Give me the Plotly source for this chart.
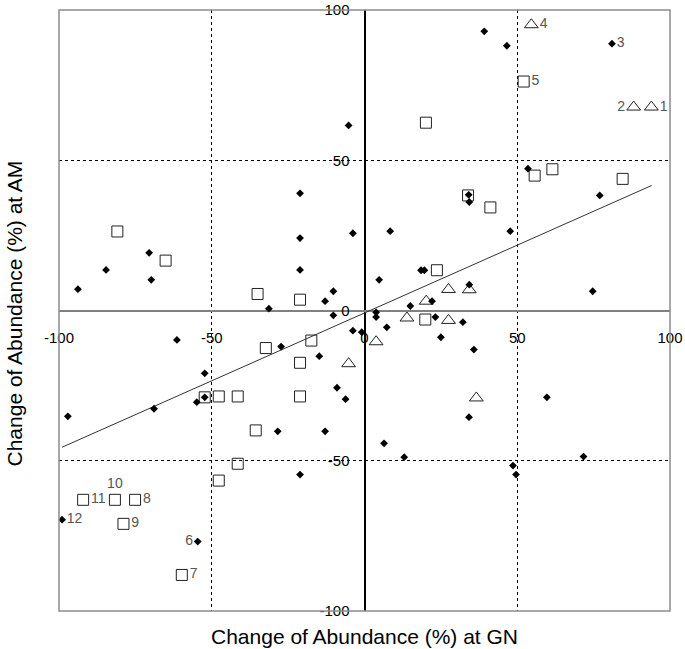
import plotly.graph_objects as go

# ---- data ----
dia_x = [-5.2, -21.1, -3.8, -21.1, -70.5, -84.6, -21.1, -69.8, -93.8, -10.2,
         -12.9, -31.3, -10.2, 39.2, 46.6, 81.0, 53.5, 77.0, 34.1, 34.3,
         47.7, 8.4, 18.5, 19.6, 4.8, 74.7, 34.3, 15.0, 22.1, 3.8,
         3.8, -3.8, -0.9, -61.4, -27.3, -14.8, -52.3, -9.0, -6.2, -52.3,
         -54.9, -68.9, -97.1, -28.4, -12.9, -21.1, -99.0, -54.6, 7.3, 23.2,
         32.2, 25.0, 35.8, 59.7, 34.2, 6.4, 13.0, 71.7, 48.6, 49.6]
dia_y = [61.6, 39.0, 25.7, 24.1, 19.2, 13.5, 13.5, 10.2, 7.1, 6.4,
         3.1, 0.6, -1.6, 92.9, 88.1, 88.8, 47.2, 38.3, 38.5, 36.1,
         26.4, 26.4, 13.4, 13.4, 10.2, 6.4, 8.6, 1.5, 3.1, -0.6,
         -2.2, -6.7, -7.2, -9.8, -12.0, -15.2, -20.9, -25.7, -29.5, -28.9,
         -30.5, -32.7, -35.2, -40.2, -40.2, -54.6, -69.6, -76.9, -5.6, -2.2,
         -3.9, -8.9, -13.0, -28.9, -35.5, -44.2, -48.8, -48.6, -51.6, -54.6]
dia_lbl = {15: ("3", "middle right"), 46: ("12", "middle right"), 47: ("6", "middle left")}

sq_x = [-80.9, -65.1, -35.0, -21.1, 52.1, 20.1, 55.7, 61.5, 84.5, 33.9,
        41.2, 23.7, 19.9, -17.4, -32.3, -21.1, -52.3, -47.7, -41.5, -21.1,
        -35.6, -41.5, -47.7, -92.1, -81.7, -75.1, -78.9, -59.8]
sq_y = [26.3, 16.6, 5.5, 3.6, 76.2, 62.5, 44.9, 47.0, 43.8, 38.3,
        34.3, 13.4, -3.0, -10.0, -12.5, -17.4, -28.9, -28.6, -28.6, -28.6,
        -39.9, -51.0, -56.6, -63.0, -63.0, -63.0, -71.0, -88.0]
sq_lbl = {4: ("5", "middle right"), 23: ("11", "middle right"), 24: ("10", "top center"),
          25: ("8", "middle right"), 26: ("9", "middle right"), 27: ("7", "middle right")}

tri_x = [54.6, 88.1, 93.9, 27.5, 34.3, 20.2, 13.9, 27.5, 3.8, 36.6, -5.2]
tri_y = [95.1, 67.7, 67.7, 7.0, 6.9, 3.1, -2.5, -3.3, -10.4, -29.1, -17.7]
tri_lbl = {0: ("4", "middle right"), 1: ("2", "middle left"), 2: ("1", "middle right")}

trend_x = [-99.0, 94.0]
trend_y = [-45.5, 41.6]

tick_vals = [-100, -50, 0, 50, 100]
tick_text = ["-100", "-50", "0", "50", "100"]

x_title = "Change of Abundance (%) at GN"
y_title = "Change of Abundance (%) at AM"

FONT = "Liberation Sans, Arial, sans-serif"


def labels(n, lbl):
    t = [""] * n
    p = ["middle right"] * n
    for i, (s, pos) in lbl.items():
        t[i] = s
        p[i] = pos
    return t, p


fig = go.Figure()

fig.add_trace(go.Scatter(x=trend_x, y=trend_y, mode="lines",
                         line=dict(color="#333333", width=1), hoverinfo="skip",
                         showlegend=False))

t, p = labels(len(sq_x), sq_lbl)
fig.add_trace(go.Scatter(x=sq_x, y=sq_y, mode="markers+text", text=t, textposition=p,
                         textfont=dict(family=FONT, size=14, color="#555555"),
                         marker=dict(symbol="square-open", size=11, color="#222222",
                                     line=dict(width=1, color="#222222")),
                         showlegend=False))

t, p = labels(len(tri_x), tri_lbl)
fig.add_trace(go.Scatter(x=tri_x, y=tri_y, mode="markers+text", text=t, textposition=p,
                         textfont=dict(family=FONT, size=14, color="#555555"),
                         marker=dict(symbol="triangle-up-open", size=12, color="#222222",
                                     line=dict(width=1, color="#222222")),
                         showlegend=False))

t, p = labels(len(dia_x), dia_lbl)
fig.add_trace(go.Scatter(x=dia_x, y=dia_y, mode="markers+text", text=t, textposition=p,
                         textfont=dict(family=FONT, size=14, color="#555555"),
                         marker=dict(symbol="diamond", size=6, color="#000000",
                                     line=dict(width=0)),
                         showlegend=False))

axis_common = dict(
    range=[-100, 100], tickvals=tick_vals, ticktext=tick_text,
    showgrid=True, gridcolor="#000000", griddash="3px,3px", gridwidth=1,
    zeroline=True, showline=False, ticks="", automargin=False,
    tickfont=dict(family=FONT, size=15, color="#000000"),
    anchor="free", position=0.5, fixedrange=True,
)

fig.update_layout(
    width=685, height=649,
    margin=dict(l=59, r=15, t=10, b=38, autoexpand=False),
    paper_bgcolor="white", plot_bgcolor="white",
    xaxis=dict(axis_common, zerolinecolor="#000000", zerolinewidth=1.5,
               ticklabelstandoff=16),
    yaxis=dict(axis_common, zerolinecolor="#808080", zerolinewidth=1.5,
               ticklabelstandoff=15),
    shapes=[dict(type="rect", xref="paper", yref="paper", x0=0, y0=0, x1=1, y1=1,
                 line=dict(color="#8c8c8c", width=1.5), layer="above")],
    annotations=[
        dict(text=x_title, xref="paper", yref="paper", x=0.5, y=0, yshift=-25,
             showarrow=False, xanchor="center", yanchor="middle",
             font=dict(family=FONT, size=21, color="#000000")),
        dict(text=y_title, xref="paper", yref="paper", x=0, y=0.495, xshift=-44,
             showarrow=False, xanchor="center", yanchor="middle", textangle=-90,
             font=dict(family=FONT, size=21, color="#000000")),
    ],
)

# remove the browser's default 8px page margin so the figure fills the window
fig.write_html("out.html", config={"displayModeBar": False},
               post_script="document.body.style.margin='0px';document.body.style.overflow='hidden';")
